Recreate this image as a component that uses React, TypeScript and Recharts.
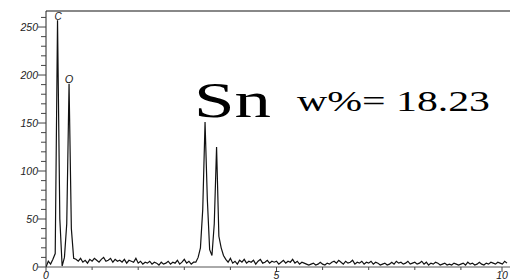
import { LineChart, Line, XAxis, YAxis, ReferenceLine } from "recharts";

// EDS spectrum, sampled every 0.05 keV from 0 to 10 keV
const KEV_STEP = 0.05;

// 0.00 – 0.60 keV: C and O K-lines
const lowEnergyCounts = [0, 6, 3, 8, 14, 257, 50, 1, 10, 45, 191, 40, 9];

// 0.65 – 3.20 keV background
const backgroundA = [
  8, 6, 9, 5, 7, 4, 8, 6, 9, 7, 5, 8, 10, 6, 7, 9, 5, 8, 6, 7,
  5, 8, 4, 7, 6, 5, 9, 4, 6, 3, 5, 4, 6, 3, 5, 4, 2, 5, 3, 4,
  6, 3, 5, 4, 7, 3, 5, 8, 4, 6, 3, 5,
];

// 3.25 – 3.95 keV: Sn L-lines
const tinCounts = [5, 10, 20, 60, 151, 70, 18, 12, 45, 125, 32, 20, 12, 8, 5];

// 4.00 – 10.00 keV background
const backgroundB = [
  9, 4, 6, 3, 7, 5, 8, 4, 6, 5, 7, 3, 6, 8, 4, 5, 7, 4, 6, 5,
  6, 3, 5, 7, 4, 6, 5, 8, 4, 6, 3, 5, 4, 3, 2, 3, 4, 2, 3, 5,
  3, 2, 4, 3, 5, 6, 4, 7, 5, 3, 6, 4, 5, 7, 3, 5, 4, 6, 3, 5,
  4, 6, 3, 5, 4, 2, 3, 4, 2, 3, 5, 3, 6, 4, 5, 3, 4, 6, 3, 4,
  5, 3, 4, 6, 3, 5, 2, 4, 3, 5, 4, 2, 3, 4, 2, 3, 2, 4, 3, 2,
  3, 4, 2, 5, 3, 4, 2, 3, 5, 3, 2, 4, 3, 5, 4, 3, 5, 4, 3, 6, 4,
];

const xTicks = [0, 1, 2, 3, 4, 5, 6, 7, 8, 9, 10];
const xLabels = [0, 5, 10];
const yTicks = [0, 10, 20, 30, 40, 50, 60, 70, 80, 90, 100, 110, 120, 130, 140, 150, 160, 170, 180, 190, 200, 210, 220, 230, 240, 250, 260];
const yLabels = [0, 50, 100, 150, 200, 250];

const Y_MAX = 266.7;

const counts = [...lowEnergyCounts, ...backgroundA, ...tinCounts, ...backgroundB];
const data = counts.map((c, i) => ({ keV: +(i * KEV_STEP).toFixed(2), counts: c }));

const tickFont = {
  fontFamily: "'Liberation Sans', Arial, sans-serif",
  fontStyle: "italic" as const,
  fontSize: 10.5,
  fill: "#222",
};

function XTick(props: any) {
  const { x, y, payload } = props;
  const major = xLabels.includes(payload.value);
  return (
    <g>
      <line x1={x} x2={x} y1={y} y2={y + (major ? 5 : 3)} stroke="#444" />
      {major && (
        <text x={x} y={y + 12} textAnchor="middle" {...tickFont}>
          {payload.value}
        </text>
      )}
    </g>
  );
}

function YTick(props: any) {
  const { x, y, payload } = props;
  const major = yLabels.includes(payload.value);
  return (
    <g>
      <line x1={x - (major ? 8 : 5)} x2={x} y1={y} y2={y} stroke="#444" />
      {major && (
        <text x={x - 8} y={y + 3.5} textAnchor="end" {...tickFont}>
          {payload.value}
        </text>
      )}
    </g>
  );
}

export default function App() {
  return (
    <div style={{ position: "absolute", left: 0, top: 0, width: 510, height: 280, background: "#fff" }}>
      <LineChart width={510} height={280} data={data} margin={{ top: 11, right: 0, bottom: 0, left: 6 }}>
        <XAxis
          type="number"
          dataKey="keV"
          domain={[0, 10.065]}
          ticks={xTicks}
          allowDataOverflow
          height={13}
          tickSize={0}
          tickMargin={0}
          tick={<XTick />}
          axisLine={{ stroke: "#555" }}
          tickLine={false}
        />
        <YAxis
          type="number"
          domain={[0, Y_MAX]}
          ticks={yTicks}
          allowDataOverflow
          width={40}
          tickSize={0}
          tickMargin={0}
          tick={<YTick />}
          axisLine={{ stroke: "#222" }}
          tickLine={false}
          interval={0}
        />
        <ReferenceLine y={Y_MAX} stroke="#888" strokeWidth={2} />
        <Line
          type="linear"
          dataKey="counts"
          stroke="#111"
          strokeWidth={1.2}
          dot={false}
          isAnimationActive={false}
        />
      </LineChart>
      <svg width={510} height={280} style={{ position: "absolute", left: 0, top: 0, pointerEvents: "none" }}>
        <text x={58} y={20} textAnchor="middle" {...tickFont} fontSize={10}>
          C
        </text>
        <text x={69} y={83} textAnchor="middle" {...tickFont} fontSize={11}>
          O
        </text>
        <text
          x={194}
          y={117}
          fontFamily="'Liberation Serif', 'Times New Roman', serif"
          fontSize={50}
          textLength={77}
          lengthAdjust="spacingAndGlyphs"
          fill="#000"
        >
          Sn
        </text>
        <text
          x={297}
          y={111}
          fontFamily="'Liberation Serif', 'Times New Roman', serif"
          fontSize={30}
          textLength={193}
          lengthAdjust="spacingAndGlyphs"
          fill="#000"
        >
          w%= 18.23
        </text>
      </svg>
    </div>
  );
}
